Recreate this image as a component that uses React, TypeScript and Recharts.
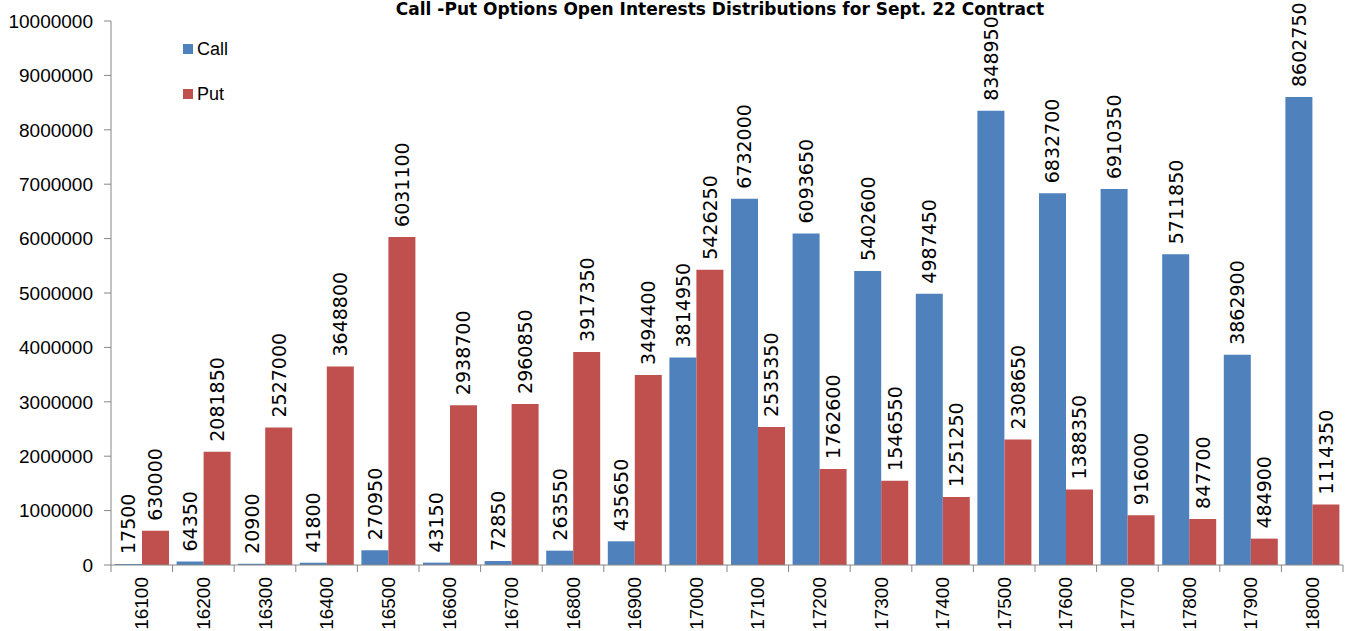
import { BarChart, Bar, XAxis, YAxis } from "recharts";

const strikes = [
  "16100", "16200", "16300", "16400", "16500", "16600", "16700", "16800", "16900", "17000",
  "17100", "17200", "17300", "17400", "17500", "17600", "17700", "17800", "17900", "18000",
];

const callOI = [
  17500, 64350, 20900, 41800, 270950, 43150, 72850, 263550, 435650, 3814950,
  6732000, 6093650, 5402600, 4987450, 8348950, 6832700, 6910350, 5711850, 3862900, 8602750,
];

const putOI = [
  630000, 2081850, 2527000, 3648800, 6031100, 2938700, 2960850, 3917350, 3494400, 5426250,
  2535350, 1762600, 1546550, 1251250, 2308650, 1388350, 916000, 847700, 484900, 1114350,
];

const yTicks = [0, 1000000, 2000000, 3000000, 4000000, 5000000, 6000000, 7000000, 8000000, 9000000, 10000000];

const data = strikes.map((s, i) => ({ strike: s, call: callOI[i], put: putOI[i] }));

const W = 1347;
const H = 631;
const LEFT = 111;
const RIGHT = 4;
const BAND = (W - LEFT - RIGHT) / strikes.length;

const CALL_COLOR = "#4F81BD";
const PUT_COLOR = "#C0504D";
const AXIS_COLOR = "#868686";

function valueLabel(props: any) {
  const { x, y, width, value } = props;
  const cx = x + width / 2;
  const ty = y - 10;
  return (
    <text
      x={cx}
      y={ty}
      transform={`rotate(-90 ${cx} ${ty})`}
      textAnchor="start"
      dominantBaseline="central"
      fontFamily="DejaVu Sans"
      fontSize={19}
      fill="#000"
    >
      {value}
    </text>
  );
}

function StrikeTick(props: any) {
  const { x, y, payload, index } = props;
  const left = x - BAND / 2;
  return (
    <g>
      <line x1={left} x2={left} y1={y} y2={y + 7} stroke={AXIS_COLOR} />
      {index === strikes.length - 1 && (
        <line x1={x + BAND / 2} x2={x + BAND / 2} y1={y} y2={y + 7} stroke={AXIS_COLOR} />
      )}
      <text
        x={x}
        y={y + 12}
        transform={`rotate(-90 ${x} ${y + 12})`}
        textAnchor="end"
        dominantBaseline="central"
        fontFamily="Liberation Sans"
        fontSize={19}
        fill="#000"
      >
        {payload.value}
      </text>
    </g>
  );
}

export default function App() {
  return (
    <div style={{ position: "absolute", left: 0, top: 0, width: W, height: H, background: "#fff" }}>
      <BarChart
        width={W}
        height={H}
        data={data}
        margin={{ top: 21, right: RIGHT, left: 0, bottom: 0 }}
        barCategoryGap={4}
        barGap={0}
      >
        <XAxis
          dataKey="strike"
          height={66}
          tickLine={false}
          tickSize={0}
          tickMargin={0}
          interval={0}
          stroke={AXIS_COLOR}
          tick={<StrikeTick />}
        />
        <YAxis
          width={LEFT}
          domain={[0, 10000000]}
          ticks={yTicks}
          interval={0}
          tickSize={7}
          tickMargin={11}
          stroke={AXIS_COLOR}
          tick={{ fill: "#000", fontSize: 19, fontFamily: "Liberation Sans" }}
        />
        <Bar dataKey="call" fill={CALL_COLOR} isAnimationActive={false} label={valueLabel} />
        <Bar dataKey="put" fill={PUT_COLOR} isAnimationActive={false} label={valueLabel} />
        <text
          x={720}
          y={15}
          textAnchor="middle"
          fontFamily="DejaVu Sans"
          fontWeight="bold"
          fontSize={17}
          fill="#000"
        >
          Call -Put Options Open Interests Distributions for Sept. 22 Contract
        </text>
        <rect x={183} y={44} width={10} height={10} fill={CALL_COLOR} />
        <text x={197} y={49} dominantBaseline="central" fontFamily="Liberation Sans" fontSize={18} fill="#000">
          Call
        </text>
        <rect x={183} y={89} width={10} height={10} fill={PUT_COLOR} />
        <text x={197} y={94} dominantBaseline="central" fontFamily="Liberation Sans" fontSize={18} fill="#000">
          Put
        </text>
      </BarChart>
    </div>
  );
}
